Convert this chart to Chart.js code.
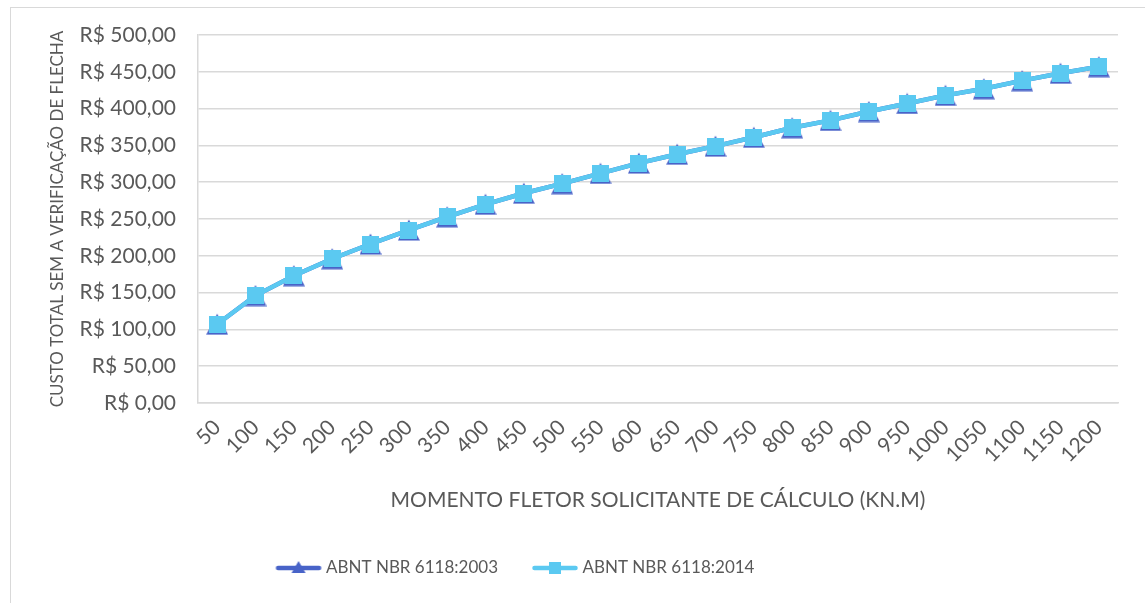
<!DOCTYPE html>
<html>
<head>
<meta charset="utf-8">
<title>Custo total sem a verificação de flecha</title>
<script src="https://cdn.jsdelivr.net/npm/chart.js@4.4.1/dist/chart.umd.min.js"></script>
<style>
    html, body { margin: 0; padding: 0; background: #fff; }
    body { position: relative; width: 1145px; height: 603px; overflow: hidden; }
    #frame {
        position: absolute; left: 10px; top: 7px; width: 1200px; height: 700px;
        border-left: 1px solid #d9d9d9; border-top: 1px solid #d9d9d9;
    }
    #chart { position: absolute; left: 0; top: 0; }
</style>
</head>
<body>
<div id="frame"></div>
<canvas id="chart" width="1145" height="603"></canvas>
<script>
// Momento fletor (kN.m) and cost values
const momentos = ['50', '100', '150', '200', '250', '300', '350', '400', '450', '500', '550', '600',
    '650', '700', '750', '800', '850', '900', '950', '1000', '1050', '1100', '1150', '1200'];

const custo2003 = [107, 146, 173, 196, 216, 235, 253, 270, 285, 298, 312, 326,
    338, 349, 361, 374, 384, 396, 407, 418, 427, 438, 448, 457];

const custo2014 = [107, 146, 173, 196, 216, 235, 253, 270, 285, 298, 312, 326,
    338, 349, 361, 374, 384, 396, 407, 418, 427, 438, 448, 457];

const DARK = '#4863c8';
const LIGHT = '#5bc9f1';
const TEXT = '#595959';
const GRID = '#d9d9d9';

// Small offscreen canvases used as point styles (Excel-like markers)
function makeIcon(w, h, draw) {
    const c = document.createElement('canvas');
    c.width = w;
    c.height = h;
    draw(c.getContext('2d'), w, h);
    return c;
}

function triangle(ctx, cx, cy, w, h) {
    ctx.fillStyle = DARK;
    ctx.beginPath();
    ctx.moveTo(cx, cy - h / 2);
    ctx.lineTo(cx + w / 2, cy + h / 2);
    ctx.lineTo(cx - w / 2, cy + h / 2);
    ctx.closePath();
    ctx.fill();
}

const triMarker = makeIcon(22, 22, (ctx) => triangle(ctx, 11, 11, 22, 21));
const squareMarker = makeIcon(17, 17, (ctx) => {
    ctx.fillStyle = LIGHT;
    ctx.fillRect(0, 0, 17, 17);
});

// legend samples: the image is a bit wider than the legend box so the
// line reaches close to the text, like in Excel
const legendBox = 56;
const legendImgW = legendBox + 10;
const lineEnd = legendImgW - 1.5;
const lineStart = lineEnd - 45;

function legendSample(color, marker) {
    return makeIcon(legendImgW, 20, (ctx, w, h) => {
        ctx.strokeStyle = color;
        ctx.lineWidth = 4.5;
        ctx.lineCap = 'round';
        ctx.beginPath();
        ctx.moveTo(lineStart + 2, h / 2);
        ctx.lineTo(lineEnd - 2, h / 2);
        ctx.stroke();
        marker(ctx, (lineStart + lineEnd) / 2, h / 2);
    });
}

const legendIcons = [
    legendSample(DARK, (ctx, cx, cy) => triangle(ctx, cx, cy - 1, 14, 12)),
    legendSample(LIGHT, (ctx, cx, cy) => {
        ctx.fillStyle = LIGHT;
        ctx.fillRect(cx - 6, cy - 6, 12, 12);
    })
];

// the legend in the original sits left of the canvas centre
const legendShift = {
    id: 'legendShift',
    afterLayout(chart) {
        chart.legend.right -= 102;
    }
};

Chart.defaults.font.family = 'Lato, "Open Sans", sans-serif';
Chart.defaults.font.size = 19;
Chart.defaults.color = TEXT;

const real = (v) => 'R$ ' + v.toFixed(2).replace('.', ',');

new Chart(document.getElementById('chart'), {
    type: 'line',
    data: {
        labels: momentos,
        datasets: [{
            label: 'ABNT NBR 6118:2003',
            data: custo2003,
            borderColor: DARK,
            backgroundColor: DARK,
            borderWidth: 4.5,
            pointStyle: triMarker,
            order: 2
        }, {
            label: 'ABNT NBR 6118:2014',
            data: custo2014,
            borderColor: LIGHT,
            backgroundColor: LIGHT,
            borderWidth: 4.5,
            pointStyle: squareMarker,
            order: 1
        }]
    },
    plugins: [legendShift],
    options: {
        responsive: false,
        animation: false,
        layout: {
            padding: {left: 0, right: 27, top: 35, bottom: 16.5}
        },
        plugins: {
            tooltip: {enabled: false},
            legend: {
                position: 'bottom',
                labels: {
                    usePointStyle: true,
                    pointStyleWidth: legendBox,
                    padding: 20,
                    font: {size: 17},
                    generateLabels: (chart) => chart.data.datasets.map((ds, i) => ({
                        text: ds.label,
                        pointStyle: legendIcons[i],
                        fontColor: TEXT,
                        fillStyle: 'transparent',
                        strokeStyle: 'transparent',
                        lineWidth: 0,
                        hidden: false,
                        datasetIndex: i
                    }))
                }
            }
        },
        scales: {
            x: {
                offset: true,
                grid: {display: false, drawTicks: false},
                border: {color: GRID, width: 1.5},
                ticks: {autoSkip: false, minRotation: 45, maxRotation: 45, padding: 12, font: {size: 21}},
                title: {
                    display: true,
                    text: 'MOMENTO FLETOR SOLICITANTE DE CÁLCULO (KN.M)',
                    font: {size: 21},
                    padding: {top: 0, bottom: 27}
                },
                afterFit: (scale) => { scale.height = 136.5; }
            },
            y: {
                min: 0,
                max: 500,
                grid: {color: GRID, lineWidth: 1.5, drawTicks: false},
                border: {color: GRID, width: 1.5},
                ticks: {stepSize: 50, padding: 22, font: {size: 21}, callback: (v) => real(v)},
                title: {
                    display: true,
                    text: 'CUSTO TOTAL SEM A VERIFICAÇÃO DE FLECHA',
                    font: {size: 17},
                    padding: {top: 47, bottom: 0}
                },
                afterFit: (scale) => { scale.width = 198; }
            }
        }
    }
});
</script>
</body>
</html>
